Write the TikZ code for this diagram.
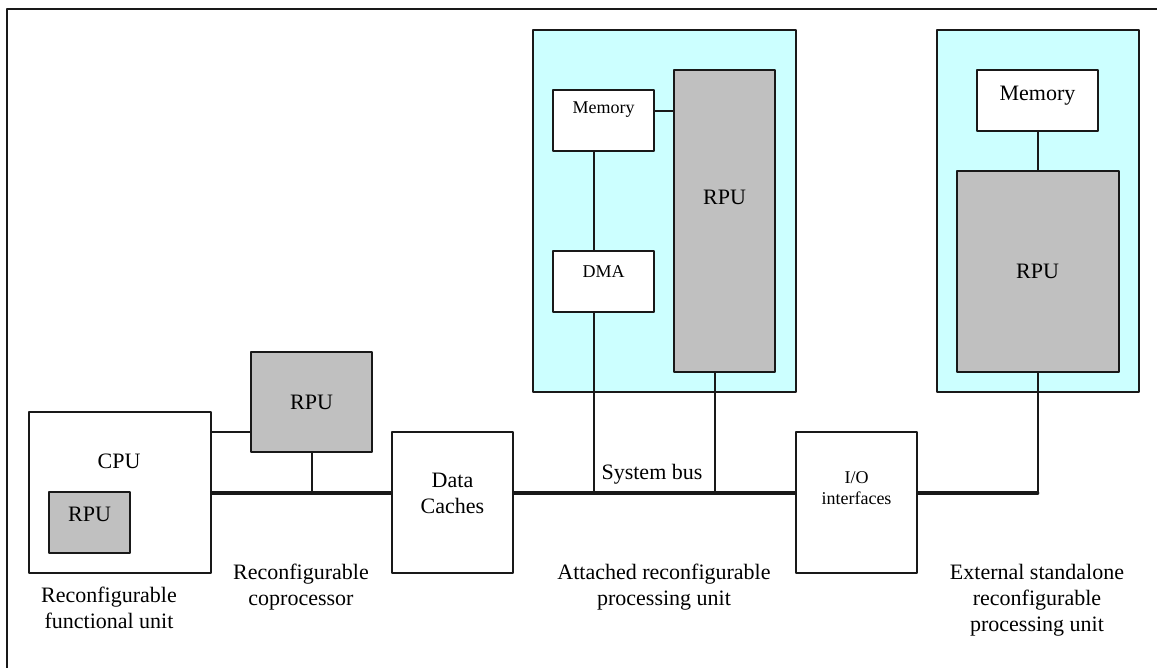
\documentclass[tikz,border=0pt]{standalone}
\usepackage{fontspec}
\setmainfont{Liberation Serif}
\usetikzlibrary{calc}

\definecolor{hostcyan}{HTML}{CCFFFF}
\definecolor{rpugray}{HTML}{C0C0C0}

\tikzset{
	unit/.style={draw=black!90,line width=2pt,inner sep=0pt,font=\fontsize{22}{26}\selectfont},
	plain/.style={unit,fill=white},
	rpu/.style={unit,fill=rpugray},
	host/.style={unit,fill=hostcyan},
	txt/.style={inner sep=0pt,align=center,font=\fontsize{22}{26}\selectfont},
	small/.style={font=\fontsize{18}{21}\selectfont},
	wire/.style={draw=black!90,line width=2pt},
	bus/.style={draw=black!90,line width=3.6pt}
}

\begin{document}
\begin{tikzpicture}[x=1pt,y=-1pt,line join=round,line cap=round]
	\useasboundingbox (0,0) rectangle (1157,668);
	\draw[line width=2pt,black!90] (7,668)--(7,9)--(1157,9);
	\coordinate (busy) at (0,493);
	% host side
	\node[plain,minimum width=182pt,minimum height=161pt] (cpu) at (120,492.5) {};
	\node[txt] (cpulbl) at (119,461) {CPU};
	\node[rpu,minimum width=81pt,minimum height=61pt] (fu) at (89.5,522.5) {};
	\node[txt] (fulbl) at (89.5,514) {RPU};
	\node[rpu,minimum width=121pt,minimum height=100pt] (cop) at (311.5,402) {RPU};
	\node[plain,minimum width=121pt,minimum height=141pt] (cache) at (452.5,502.5) {};
	\node[txt] (cachelbl) at (452.5,493) {Data\\Caches};
	\node[plain,minimum width=121pt,minimum height=141pt] (io) at (856.5,502.5) {};
	\node[txt,small] (iolbl) at (856.5,488) {I/O\\interfaces};
	% attached unit
	\node[host,minimum width=263pt,minimum height=362pt] (att) at (664.5,211) {};
	\node[plain,minimum width=101pt,minimum height=61pt] (amem) at (603.5,120.5) {};
	\node[txt,small] (amemlbl) at (603.5,110) {Memory};
	\node[plain,minimum width=101pt,minimum height=61pt] (dma) at (603.5,281.5) {};
	\node[txt,small] (dmalbl) at (603.5,272) {DMA};
	\node[rpu,minimum width=101pt,minimum height=302pt] (arpu) at (724.5,221) {};
	\node[txt] (arpulbl) at (724.5,197) {RPU};
	% standalone unit
	\node[host,minimum width=202pt,minimum height=362pt] (ext) at (1038,211) {};
	\node[plain,minimum width=121pt,minimum height=61pt] (emem) at (1037.5,100.5) {};
	\node[txt] (ememlbl) at (1037.5,96) {Memory};
	\node[rpu,minimum width=162pt,minimum height=201pt] (erpu) at (1037.5,271.5) {RPU};
	% connections
	\draw[wire] (cop.west |- 0,432)--(cpu.east |- 0,432);
	\draw[wire] (cop.south)--(cop.south |- busy);
	\draw[bus] (cpu.east |- busy)--(cache.west |- busy);
	\draw[bus] (cache.east |- busy)--(io.west |- busy);
	\draw[wire] ([yshift=9.5pt]amem.east)--([yshift=9.5pt]amem.east -| arpu.west);
	\draw[wire] ([xshift=-9.5pt]amem.south)--([xshift=-9.5pt]dma.north);
	\draw[wire] ([xshift=-9.5pt]dma.south)--([xshift=-9.5pt]dma.south |- busy);
	\draw[wire] ([xshift=-9.5pt]arpu.south)--([xshift=-9.5pt]arpu.south |- busy);
	\draw[wire] (emem.south)--(erpu.north);
	\draw[wire] (erpu.south)--(erpu.south |- busy);
	\draw[bus] (io.east |- busy)--(erpu.south |- busy);
	% captions
	\node[txt] (buslbl) at (652,474) {System bus};
	\node[txt] (fucap) at (109,608) {Reconfigurable\\functional unit};
	\node[txt] (copcap) at (301,587) {Reconfigurable\\coprocessor};
	\node[txt] (attcap) at (664,587) {Attached reconfigurable\\processing unit};
	\node[txt] (extcap) at (1037,600) {External standalone\\reconfigurable\\processing unit};
\end{tikzpicture}
\end{document}
